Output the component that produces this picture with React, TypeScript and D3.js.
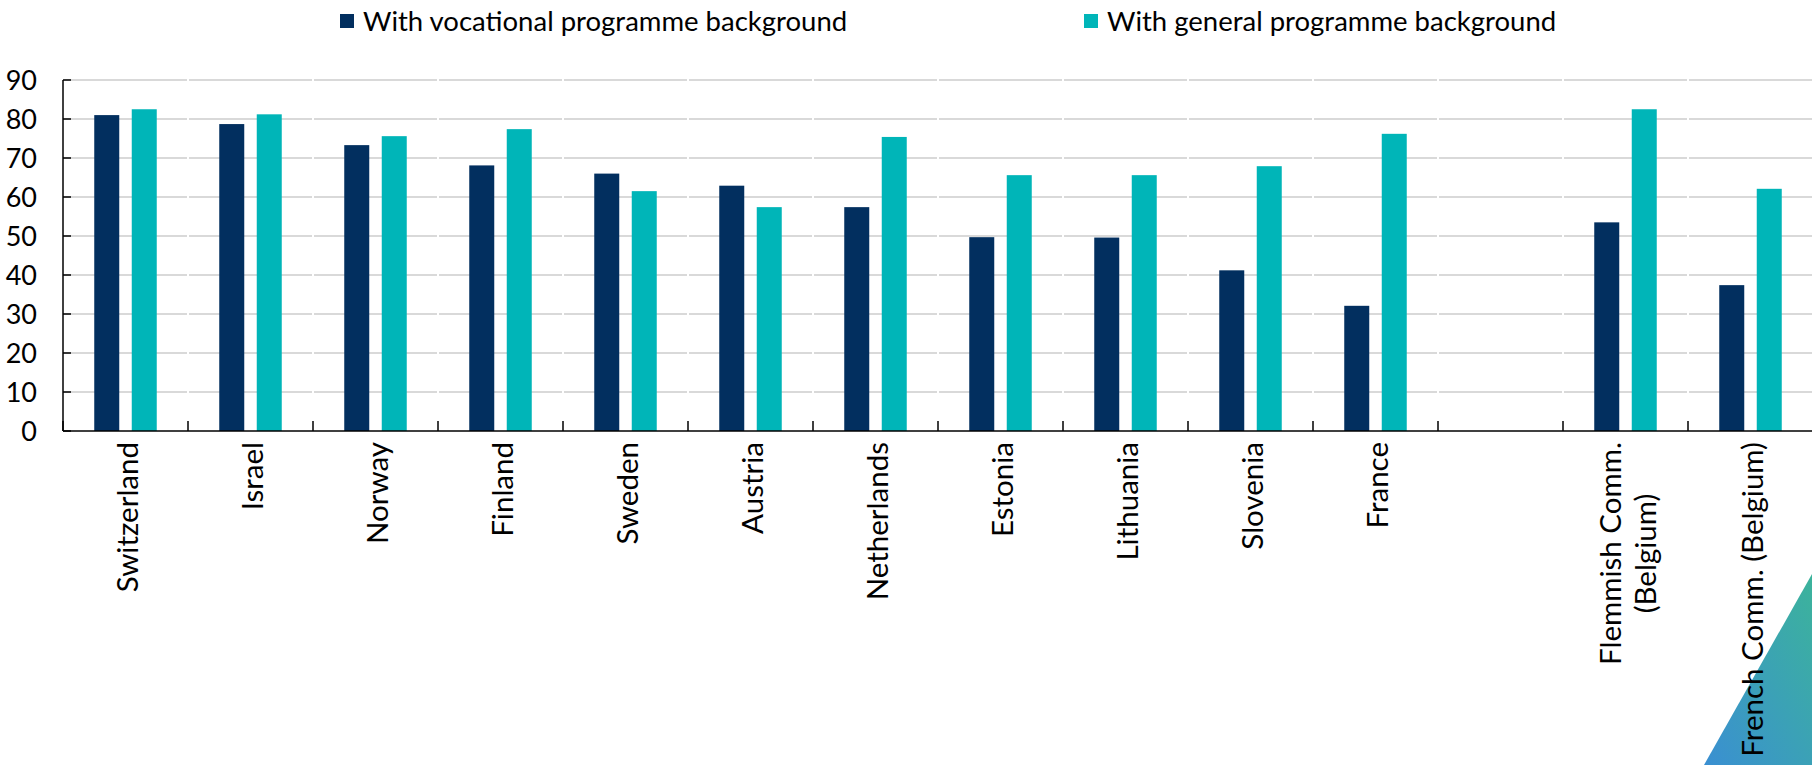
import React from "react";
import * as d3 from "d3";

const categories: string[] = [
  "Switzerland", "Israel", "Norway", "Finland", "Sweden", "Austria", "Netherlands",
  "Estonia", "Lithuania", "Slovenia", "France", "", "Flemmish Comm.|(Belgium)", "French Comm. (Belgium)",
];
const vocational: (number | null)[] = [81.0, 78.7, 73.3, 68.1, 66.0, 62.9, 57.4, 49.7, 49.6, 41.2, 32.1, null, 53.5, 37.4];
const general: (number | null)[] = [82.5, 81.2, 75.6, 77.4, 61.5, 57.4, 75.4, 65.6, 65.6, 67.9, 76.2, null, 82.5, 62.1];
const seriesNames: string[] = ["With vocational programme background", "With general programme background"];
const yTicks: number[] = [0, 10, 20, 30, 40, 50, 60, 70, 80, 90];

const COLORS = ["#022f5f", "#00b5b8"];
const FONT = "Lato, 'Open Sans', sans-serif";
const FS = 27;
const FS_X = 29.5;
const FS_LEG = 27.5;

function measure(text: string, size: number): number {
  try {
    const c = document.createElement("canvas").getContext("2d");
    if (!c) return text.length * size * 0.5;
    c.font = `${size}px Lato`;
    return c.measureText(text).width;
  } catch {
    return text.length * size * 0.5;
  }
}

export default function App() {
  const W = 1812, H = 765;
  const left = 63, top = 80, bottom = 431;
  const slot = 125;
  const keys = categories.map((c, i) => `${i}`);
  const x0 = d3.scaleBand<string>().domain(keys).range([left, left + slot * keys.length]).padding(0);
  const x1 = d3.scaleBand<string>().domain(["v", "g"]).range([0, x0.bandwidth()]).paddingInner(1 / 3).paddingOuter(0.8333);
  const y = d3.scaleLinear().domain([0, 90]).range([bottom, top]);
  const rightEdge = W;

  const series = [vocational, general];
  const sKeys = ["v", "g"];

  return (
    <svg width={W} height={H} style={{ position: "absolute", left: 0, top: 0, background: "#fff" }} fontFamily={FONT}>
      <defs>
        <linearGradient id="tri" x1="1" y1="0" x2="0" y2="1">
          <stop offset="0%" stopColor="#3cb39b" />
          <stop offset="100%" stopColor="#3a8fd2" />
        </linearGradient>
      </defs>
      {/* gridlines */}
      {yTicks.filter((t) => t > 0).map((t) => (
        <g key={`g${t}`}>
          {keys.map((k) => {
            const xs = x0(k)!;
            const xe = Math.min(xs + x0.bandwidth(), rightEdge + 2);
            return <line key={k} x1={xs + 1} x2={xe - 1} y1={y(t)} y2={y(t)} stroke="#d9d9d9" strokeWidth={2} />;
          })}
        </g>
      ))}
      {/* bars */}
      {series.map((vals, si) => (
        <g key={si} fill={COLORS[si]}>
          {vals.map((v, i) =>
            v == null ? null : (
              <rect key={i} x={x0(keys[i])! + x1(sKeys[si])!} width={x1.bandwidth()} y={y(v)} height={y(0) - y(v)} />
            )
          )}
        </g>
      ))}
      {/* axes */}
      <line x1={left} x2={rightEdge} y1={bottom} y2={bottom} stroke="#000" strokeWidth={1.5} />
      <line x1={left} x2={left} y1={top} y2={bottom} stroke="#000" strokeWidth={1.5} />
      {yTicks.map((t) => (
        <g key={`yt${t}`}>
          <line x1={left} x2={left + 8} y1={y(t)} y2={y(t)} stroke="#000" strokeWidth={1.5} />
          <text x={37} y={y(t)} dy="0.36em" textAnchor="end" fontSize={FS} fill="#000">{t}</text>
        </g>
      ))}
      {keys.map((k) => (
        <line key={`xt${k}`} x1={x0(k)!} x2={x0(k)!} y1={bottom} y2={bottom - 10} stroke="#000" strokeWidth={1.5} />
      ))}
      {/* corner triangle */}
      <polygon points={`1704,765 1812,765 1812,574`} fill="url(#tri)" />
      {/* x labels */}
      {categories.map((c, i) => {
        if (!c) return null;
        const cx = x0(keys[i])! + x0.bandwidth() / 2;
        const lines = c.split("|");
        if (lines.length === 1) {
          return (
            <text key={i} transform={`translate(${cx},442) rotate(-90)`} dy={12.5} textAnchor="end" fontSize={FS_X} fill="#000">
              {c}
            </text>
          );
        }
        const L = measure(lines[0], FS_X);
        return (
          <g key={i} transform={`translate(${cx},442) rotate(-90)`}>
            <text x={0} y={-17.5} dy={12.5} textAnchor="end" fontSize={FS_X} fill="#000">{lines[0]}</text>
            <text x={-L / 2} y={17.5} dy={12.5} textAnchor="middle" fontSize={FS_X} fill="#000">{lines[1]}</text>
          </g>
        );
      })}
      {/* legend */}
      {seriesNames.map((n, i) => {
        const lx = [340, 1084][i];
        return (
          <g key={n}>
            <rect x={lx} y={14} width={14} height={14} fill={COLORS[i]} />
            <text x={lx + 23} y={21} dy="0.36em" fontSize={FS_LEG} fill="#000">{n}</text>
          </g>
        );
      })}
    </svg>
  );
}
